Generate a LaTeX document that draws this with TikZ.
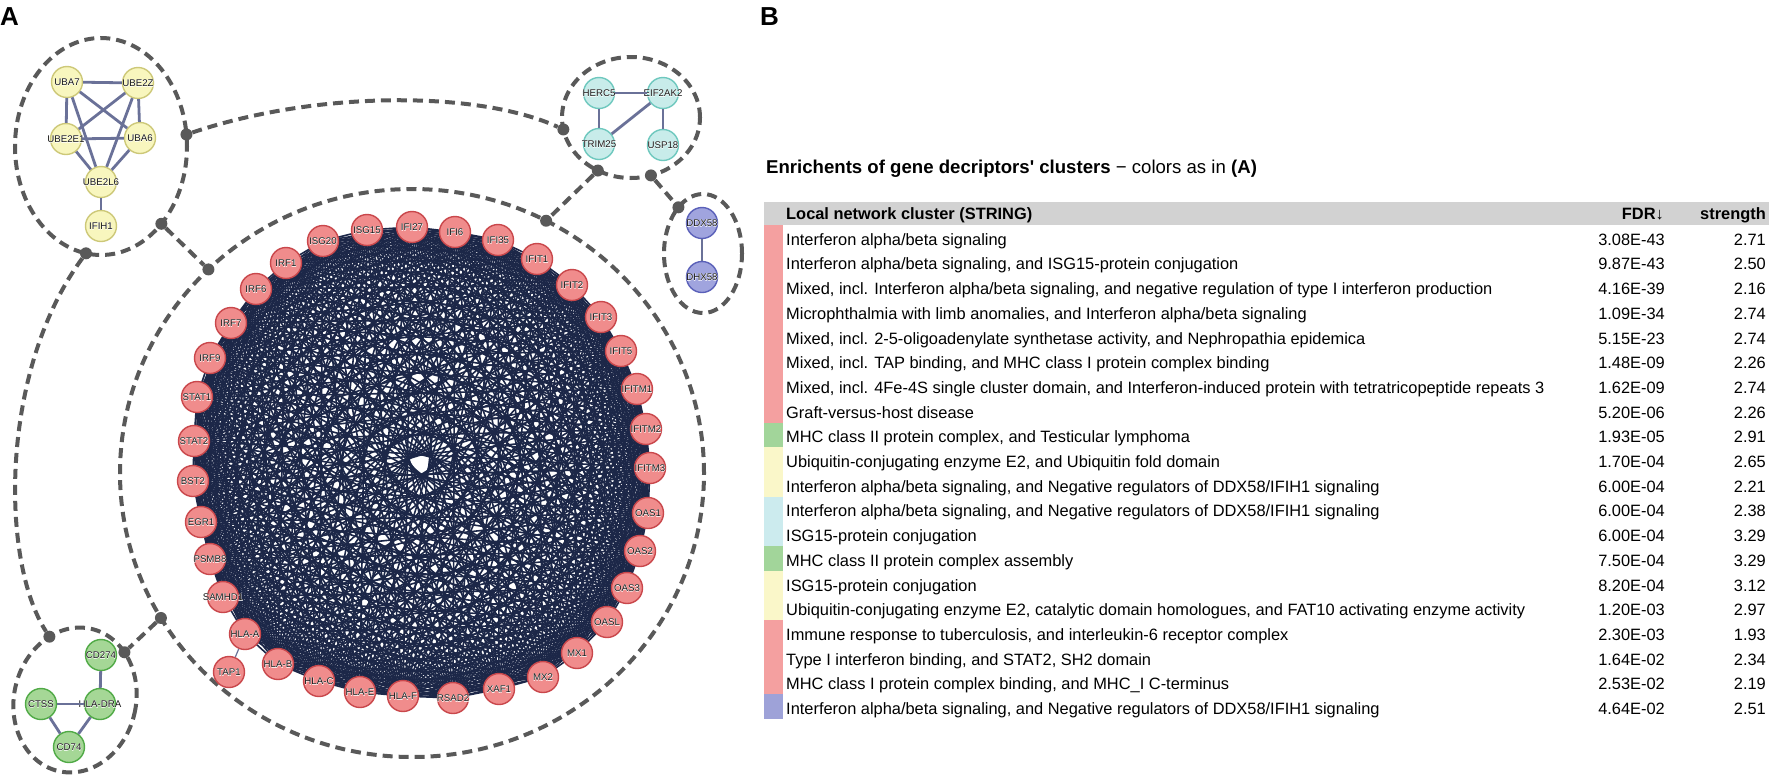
\documentclass[tikz,border=0pt]{standalone}
\usepackage{fontspec}
\setmainfont{Liberation Sans}
\newfontfamily\halofont[FakeBold=4]{Liberation Sans}
\usetikzlibrary{shapes.geometric}

\definecolor{redfill}{HTML}{F08C8C}
\definecolor{redline}{HTML}{C9474B}
\definecolor{ylwfill}{HTML}{F8F6BE}
\definecolor{ylwline}{HTML}{CDC878}
\definecolor{cynfill}{HTML}{C8ECEA}
\definecolor{cynline}{HTML}{6EC8BE}
\definecolor{prpfill}{HTML}{A0A4DE}
\definecolor{prpline}{HTML}{5A60B9}
\definecolor{grnfill}{HTML}{A5D796}
\definecolor{grnline}{HTML}{50AA46}
\definecolor{meshblue}{HTML}{1C2748}
\definecolor{edgegray}{HTML}{6A7198}
\definecolor{linkgray}{HTML}{595959}
\definecolor{headgray}{HTML}{D2D2D2}
\definecolor{barpink}{HTML}{F4A0A0}
\definecolor{bargreen}{HTML}{A2D59A}
\definecolor{baryellow}{HTML}{FAF7C9}
\definecolor{barcyan}{HTML}{CCEBEE}
\definecolor{barpurple}{HTML}{9EA2D8}

\begin{document}
\begin{tikzpicture}[x=1pt, y=-1pt,
  gene/.style={circle, minimum size=31pt, inner sep=0pt, line width=1.4pt,
    label={[text=white, inner sep=0pt, font=\halofont\fontsize{9.7}{11}\selectfont]center:#1},
    label={[text=black!90, inner sep=0pt, font=\fontsize{9.7}{11}\selectfont]center:#1}},
  rednode/.style={gene=#1, fill=redfill, draw=redline},
  ylwnode/.style={gene=#1, fill=ylwfill, draw=ylwline},
  cynnode/.style={gene=#1, fill=cynfill, draw=cynline},
  prpnode/.style={gene=#1, fill=prpfill, draw=prpline},
  grnnode/.style={gene=#1, fill=grnfill, draw=grnline},
  ppi/.style={draw=edgegray, line width=2.8pt},
  meshline/.style={draw=meshblue, line width=1.6pt},
  clusterring/.style={ellipse, draw=linkgray, line width=4pt, dash pattern=on 10pt off 6pt, inner sep=0pt, outer sep=0pt},
  linkline/.style={draw=linkgray, line width=4pt, dash pattern=on 10pt off 6pt},
  hub/.style={circle, fill=linkgray, minimum size=12pt, inner sep=0pt},
  rowtext/.style={anchor=base west, inner sep=0pt, font=\fontsize{16.4}{19}\selectfont},
  numtext/.style={anchor=base east, inner sep=0pt, font=\fontsize{16.4}{19}\selectfont},
  panel/.style={anchor=base west, inner sep=0pt, font=\fontsize{26}{30}\selectfont\bfseries}]

  \useasboundingbox (0,0) rectangle (1772,777);

  % ---- Panel labels ----
  \node[panel] (panA) at (0,25) {A};
  \node[panel] (panB) at (760,25) {B};

  % ---- Cluster rings ----
  \node[clusterring, minimum width=172pt, minimum height=217pt] (ylwring) at (101,146.5) {};
  \node[clusterring, minimum width=138pt, minimum height=121pt] (cynring) at (631,117.5) {};
  \node[clusterring, minimum width=78pt, minimum height=119pt] (prpring) at (703,253.5) {};
  \node[clusterring, minimum width=584pt, minimum height=568pt] (redring) at (412,473) {};
  \node[clusterring, minimum width=122pt, minimum height=146pt, rotate=-13] (grnring) at (75,700) {};

  % ---- Hubs on the rings ----
  \node[hub] (hubYC) at (ylwring.8) {};
  \node[hub] (hubYR) at (ylwring.-52) {};
  \node[hub] (hubYG) at (ylwring.-98) {};
  \node[hub] (hubCY) at (cynring.190) {};
  \node[hub] (hubCR) at (cynring.238) {};
  \node[hub] (hubCP) at (cynring.289) {};
  \node[hub] (hubPC) at (prpring.118) {};
  \node[hub] (hubRY) at (redring.135) {};
  \node[hub] (hubRC) at (redring.62) {};
  \node[hub] (hubRG) at (redring.210) {};
  \node[hub] (hubGY) at (grnring.125) {};
  \node[hub] (hubGR) at (grnring.57) {};

  % ---- Dashed links between clusters ----
  \draw[linkline] (hubYC) .. controls (315,91) and (477,90) .. (hubCY);
  \draw[linkline] (hubCR) -- (hubRC);
  \draw[linkline] (hubCP) -- (hubPC);
  \draw[linkline] (hubYR) -- (hubRY);
  \draw[linkline] (hubYG) .. controls (0,370) and (0,560) .. (hubGY);
  \draw[linkline] (hubRG) -- (hubGR);

  % ---- Red cluster (dense mesh) ----
  \foreach \x/\y [count=\i] in {323/241, 367/230, 412/227, 455/232, 498/240, 537/259,
      572/285, 601/317, 621/351, 637/389, 646/429, 650/468, 648/513, 640/551, 627/588,
      607/622, 577/653, 543/677, 499/689, 453/698, 403/696, 360/692, 319/681, 278/664,
      245/634, 223/597, 210/559, 201/522, 193/481, 194/441, 197/397, 210/358, 231/323,
      256/289, 286/263}
    \coordinate (p\i) at (\x,\y);
  \foreach \i in {1,...,35}
    \foreach \j in {1,...,35}
      {\ifnum\j>\i \draw[meshline] (p\i) -- (p\j); \fi}
  \foreach \g [count=\i] in {ISG20, ISG15, IFI27, IFI6, IFI35, IFIT1, IFIT2, IFIT3, IFIT5,
      IFITM1, IFITM2, IFITM3, OAS1, OAS2, OAS3, OASL, MX1, MX2, XAF1, RSAD2, HLA-F, HLA-E,
      HLA-C, HLA-B, HLA-A, SAMHD1, PSMB8, EGR1, BST2, STAT2, STAT1, IRF9, IRF7, IRF6, IRF1}
    \node[rednode=\g] (red\i) at (p\i) {};
  \node[rednode=TAP1] (tap1) at (229,672) {};
  \draw[edgegray, line width=1.2pt] (tap1) -- (red25);

  % ---- Yellow cluster ----
  \node[ylwnode=UBA7] (uba7) at (67,82) {};
  \node[ylwnode=UBE2Z] (ube2z) at (138,83) {};
  \node[ylwnode=UBE2E1] (ube2e1) at (66,139) {};
  \node[ylwnode=UBA6] (uba6) at (140,138) {};
  \node[ylwnode=UBE2L6] (ube2l6) at (101,182) {};
  \node[ylwnode=IFIH1] (ifih1) at (101,226) {};
  \draw[ppi] (uba7) -- (ube2z);
  \draw[ppi] (uba7) -- (ube2e1);
  \draw[ppi] (uba7) -- (uba6);
  \draw[ppi] (uba7) -- (ube2l6);
  \draw[ppi] (ube2z) -- (ube2e1);
  \draw[ppi] (ube2z) -- (uba6);
  \draw[ppi] (ube2z) -- (ube2l6);
  \draw[ppi] (ube2e1) -- (uba6);
  \draw[ppi] (ube2e1) -- (ube2l6);
  \draw[ppi] (uba6) -- (ube2l6);
  \draw[ppi] (ube2l6) -- (ifih1);

  % ---- Cyan cluster ----
  \node[cynnode=HERC5] (herc5) at (599,93) {};
  \node[cynnode=EIF2AK2] (eif2ak2) at (663,93) {};
  \node[cynnode=TRIM25] (trim25) at (599,144) {};
  \node[cynnode=USP18] (usp18) at (663,145) {};
  \draw[ppi] (herc5) -- (eif2ak2);
  \draw[ppi] (herc5) -- (trim25);
  \draw[ppi] (trim25) -- (eif2ak2);
  \draw[ppi] (eif2ak2) -- (usp18);

  % ---- Purple cluster ----
  \node[prpnode=DDX58] (ddx58) at (702,223) {};
  \node[prpnode=DHX58] (dhx58) at (702,277) {};
  \draw[ppi] (ddx58) -- (dhx58);

  % ---- Green cluster ----
  \node[grnnode=CD274] (cd274) at (101,655) {};
  \node[grnnode=CTSS] (ctss) at (41,704) {};
  \node[grnnode=HLA-DRA] (hladra) at (100,704) {};
  \node[grnnode=CD74] (cd74) at (69,747) {};
  \draw[ppi] (cd274) -- (hladra);
  \draw[ppi] (ctss) -- (hladra);
  \draw[ppi] (ctss) -- (cd74);
  \draw[ppi] (hladra) -- (cd74);

  % ---- Table B ----
  \node[anchor=base west, inner sep=0pt, font=\fontsize{18.6}{22}\selectfont] (tabtitle) at (766,173)
    {\textbf{Enrichents of gene decriptors\textquotesingle{} clusters} − colors as in \textbf{(A)}};
  \fill[headgray] (764,202) rectangle (1769,225);
  \node[rowtext] (headclu) at (786,219) {\textbf{Local network cluster (STRING)}};
  \node[numtext] (headfdr) at (1664,219) {\textbf{FDR}↓};
  \node[numtext] (headstr) at (1766,219) {\textbf{strength}};
  \foreach \t/\c/\f/\s [count=\k] in {
      {Interferon alpha/beta signaling}/barpink/3.08E-43/2.71,
      {Interferon alpha/beta signaling, and ISG15-protein conjugation}/barpink/9.87E-43/2.50,
      {Mixed, incl. Interferon alpha/beta signaling, and negative regulation of type I interferon production}/barpink/4.16E-39/2.16,
      {Microphthalmia with limb anomalies, and Interferon alpha/beta signaling}/barpink/1.09E-34/2.74,
      {Mixed, incl. 2-5-oligoadenylate synthetase activity, and Nephropathia epidemica}/barpink/5.15E-23/2.74,
      {Mixed, incl. TAP binding, and MHC class I protein complex binding}/barpink/1.48E-09/2.26,
      {Mixed, incl. 4Fe-4S single cluster domain, and Interferon-induced protein with tetratricopeptide repeats 3}/barpink/1.62E-09/2.74,
      {Graft-versus-host disease}/barpink/5.20E-06/2.26,
      {MHC class II protein complex, and Testicular lymphoma}/bargreen/1.93E-05/2.91,
      {Ubiquitin-conjugating enzyme E2, and Ubiquitin fold domain}/baryellow/1.70E-04/2.65,
      {Interferon alpha/beta signaling, and Negative regulators of DDX58/IFIH1 signaling}/baryellow/6.00E-04/2.21,
      {Interferon alpha/beta signaling, and Negative regulators of DDX58/IFIH1 signaling}/barcyan/6.00E-04/2.38,
      {ISG15-protein conjugation}/barcyan/6.00E-04/3.29,
      {MHC class II protein complex assembly}/bargreen/7.50E-04/3.29,
      {ISG15-protein conjugation}/baryellow/8.20E-04/3.12,
      {Ubiquitin-conjugating enzyme E2, catalytic domain homologues, and FAT10 activating enzyme activity}/baryellow/1.20E-03/2.97,
      {Immune response to tuberculosis, and interleukin-6 receptor complex}/barpink/2.30E-03/1.93,
      {Type I interferon binding, and STAT2, SH2 domain}/barpink/1.64E-02/2.34,
      {MHC class I protein complex binding, and MHC\_I C-terminus}/barpink/2.53E-02/2.19,
      {Interferon alpha/beta signaling, and Negative regulators of DDX58/IFIH1 signaling}/barpurple/4.64E-02/2.51}
  {
    \pgfmathsetmacro\rowtop{225+24.7*(\k-1)}
    \fill[\c] (764,\rowtop) rectangle ++(19,25);
    \node[rowtext] (row\k) at (786,\rowtop+20.2) {\t};
    \node[numtext] (fdr\k) at (1665,\rowtop+20.2) {\f};
    \node[numtext] (str\k) at (1766,\rowtop+20.2) {\s};
  }
\end{tikzpicture}
\end{document}
